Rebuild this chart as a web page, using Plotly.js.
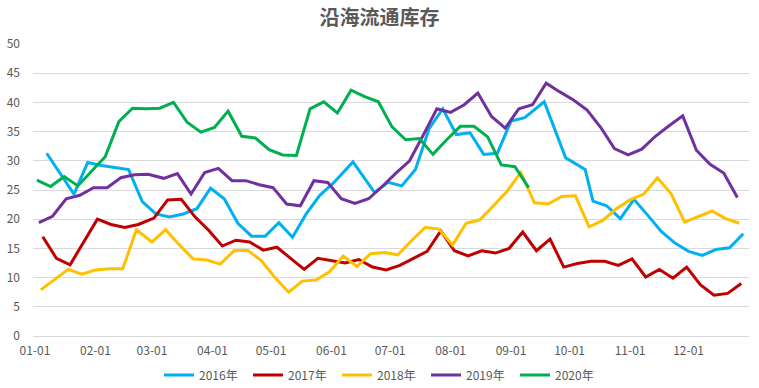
<!DOCTYPE html>
<html>
<head>
<meta charset="utf-8">
<script src="https://cdn.plot.ly/plotly-3.0.1.min.js"></script>
<style>
  html, body { margin: 0; padding: 0; background: #ffffff; }
  #chart { width: 759px; height: 388px; }
</style>
</head>
<body>
<div id="chart"></div>
<script>
// Observation dates (month-day), each year's weekly release dates
const dates2016 = ['01-07','01-14','01-21','01-28','02-04','02-18','02-25','03-03','03-10','03-17','03-24','03-31','04-07','04-14','04-21','04-28','05-05','05-12','05-19','05-26','06-02','06-12','06-23','06-30','07-07','07-14','07-21','07-28','08-04','08-11','08-18','08-25','09-01','09-08','09-18','09-29','10-09','10-13','10-20','10-27','11-03','11-10','11-17','11-24','12-01','12-08','12-15','12-22','12-29'];
const values2016 = [31.3, 27.8, 24.3, 29.7, 29.2, 28.5, 23.0, 20.9, 20.4, 20.9, 21.8, 25.3, 23.5, 19.3, 17.1, 17.1, 19.4, 16.9, 20.9, 24.1, 26.2, 29.8, 24.6, 26.3, 25.7, 28.5, 35.5, 38.9, 34.5, 34.8, 31.1, 31.3, 36.8, 37.4, 40.1, 30.5, 28.5, 23.1, 22.3, 20.1, 23.4, 20.7, 17.9, 15.9, 14.5, 13.8, 14.8, 15.1, 17.5];

const dates2017 = ['01-05','01-12','01-19','01-26','02-02','02-09','02-16','02-23','03-02','03-09','03-16','03-23','03-30','04-06','04-13','04-20','04-27','05-04','05-11','05-18','05-25','06-01','06-08','06-15','06-22','06-29','07-06','07-13','07-20','07-27','08-03','08-10','08-17','08-24','08-31','09-07','09-14','09-21','09-28','10-05','10-12','10-19','10-26','11-02','11-09','11-16','11-23','11-30','12-07','12-14','12-21','12-28'];
const values2017 = [17.0, 13.3, 12.2, 16.1, 20.0, 19.1, 18.6, 19.1, 20.2, 23.3, 23.4, 20.4, 18.1, 15.4, 16.4, 16.1, 14.7, 15.2, 13.3, 11.4, 13.3, 12.9, 12.5, 13.1, 11.8, 11.3, 12.1, 13.3, 14.5, 18.0, 14.6, 13.7, 14.6, 14.2, 15.0, 17.8, 14.6, 16.6, 11.8, 12.4, 12.8, 12.8, 12.1, 13.2, 10.1, 11.4, 9.9, 11.8, 8.8, 7.0, 7.3, 9.0];

const dates2018 = ['01-04','01-11','01-18','01-25','02-01','02-08','02-15','02-22','03-01','03-08','03-15','03-22','03-29','04-05','04-12','04-19','04-26','05-03','05-10','05-17','05-24','05-31','06-07','06-14','06-21','06-28','07-05','07-12','07-19','07-26','08-02','08-09','08-16','08-23','08-30','09-06','09-13','09-20','09-27','10-04','10-11','10-18','10-25','11-01','11-08','11-15','11-22','11-29','12-06','12-13','12-20','12-27'];
const values2018 = [7.9, 9.6, 11.4, 10.6, 11.3, 11.5, 11.5, 18.2, 16.1, 18.2, 15.6, 13.2, 13.0, 12.3, 14.6, 14.7, 12.9, 10.0, 7.5, 9.4, 9.6, 11.0, 13.7, 11.9, 14.1, 14.3, 13.9, 16.3, 18.6, 18.3, 15.6, 19.3, 19.9, 22.3, 24.8, 28.0, 22.8, 22.6, 23.9, 24.0, 18.7, 19.8, 21.8, 23.3, 24.3, 27.1, 24.4, 19.5, 20.5, 21.4, 20.1, 19.3];

const dates2019 = ['01-03','01-10','01-17','01-24','01-31','02-07','02-14','02-21','02-28','03-07','03-14','03-21','03-28','04-04','04-11','04-18','04-25','05-02','05-09','05-16','05-23','05-30','06-06','06-13','06-20','06-27','07-04','07-11','07-18','07-25','08-01','08-08','08-15','08-22','08-29','09-05','09-12','09-19','09-26','10-03','10-10','10-17','10-24','10-31','11-07','11-14','11-21','11-28','12-05','12-12','12-19','12-26'];
const values2019 = [19.4, 20.5, 23.5, 24.1, 25.4, 25.4, 27.1, 27.6, 27.7, 27.0, 27.8, 24.3, 28.0, 28.7, 26.6, 26.6, 25.9, 25.4, 22.6, 22.3, 26.6, 26.3, 23.5, 22.7, 23.5, 25.6, 27.9, 30.0, 34.4, 38.9, 38.3, 39.6, 41.6, 37.6, 35.6, 38.9, 39.6, 43.3, 41.8, 40.4, 38.7, 35.7, 32.1, 31.0, 32.0, 34.2, 36.0, 37.7, 31.8, 29.4, 27.9, 23.7];

const dates2020 = ['01-02','01-09','01-16','01-23','01-30','02-06','02-13','02-20','02-27','03-05','03-12','03-19','03-26','04-02','04-09','04-16','04-23','04-30','05-07','05-14','05-21','05-28','06-04','06-11','06-18','06-25','07-02','07-09','07-16','07-23','07-30','08-06','08-13','08-20','08-27','09-03','09-10'];
const values2020 = [26.7, 25.6, 27.3, 25.7, 28.2, 30.7, 36.7, 39.0, 38.9, 39.0, 40.0, 36.6, 34.9, 35.7, 38.5, 34.2, 33.9, 31.9, 31.0, 30.9, 38.9, 40.1, 38.2, 42.1, 41.0, 40.1, 35.8, 33.6, 33.8, 31.1, 33.6, 35.9, 35.9, 34.1, 29.3, 29.0, 25.4];

const seriesNames = ['2016年', '2017年', '2018年', '2019年', '2020年'];
const monthTicks = ['01-01','02-01','03-01','04-01','05-01','06-01','07-01','08-01','09-01','10-01','11-01','12-01'];
const chartTitle = '沿海流通库存';

const colors = ['#00B0F0', '#C00000', '#FFC000', '#7030A0', '#00B050'];
const allDates = [dates2016, dates2017, dates2018, dates2019, dates2020];
const allValues = [values2016, values2017, values2018, values2019, values2020];
const baseYear = '2020-';

const traces = allValues.map((vals, i) => ({
  type: 'scatter',
  mode: 'lines',
  name: seriesNames[i],
  x: allDates[i].map(d => baseYear + d),
  y: vals,
  line: { color: colors[i], width: 3 },
  hoverinfo: 'skip'
}));

const tickFont = { family: '"Noto Sans CJK SC", "Noto Sans", sans-serif', size: 12, color: '#595959' };

const layout = {
  width: 759,
  height: 388,
  margin: { l: 33, r: 10, t: 44, b: 52 },
  paper_bgcolor: '#ffffff',
  plot_bgcolor: '#ffffff',
  title: {
    text: chartTitle,
    x: 0.5, xanchor: 'center',
    y: 1 - 18 / 388, yanchor: 'middle',
    font: { family: '"Noto Sans CJK SC", sans-serif', size: 20, color: '#595959', weight: 'bold' }
  },
  xaxis: {
    type: 'date',
    range: ['2019-12-31', '2020-12-31 23:00'],
    tickvals: monthTicks.map(m => baseYear + m),
    ticktext: monthTicks,
    showgrid: false,
    zeroline: false,
    showline: false,
    ticks: '',
    ticklabelstandoff: 6,
    tickfont: tickFont
  },
  yaxis: {
    range: [0, 50],
    dtick: 5,
    tick0: 0,
    showgrid: true,
    gridcolor: '#d9d9d9',
    gridwidth: 1,
    zeroline: true,
    zerolinecolor: '#d9d9d9',
    zerolinewidth: 1,
    showline: false,
    ticks: '',
    ticklabelstandoff: 12,
    tickfont: tickFont
  },
  showlegend: true,
  legend: {
    orientation: 'h',
    xref: 'container', yref: 'container',
    x: 381.5 / 759, xanchor: 'center',
    y: 1 - 375 / 388, yanchor: 'middle',
    entrywidth: 44,
    entrywidthmode: 'pixels',
    font: tickFont,
    bgcolor: 'rgba(0,0,0,0)'
  }
};

Plotly.newPlot('chart', traces, layout, { staticPlot: true, displayModeBar: false });
</script>
</body>
</html>
